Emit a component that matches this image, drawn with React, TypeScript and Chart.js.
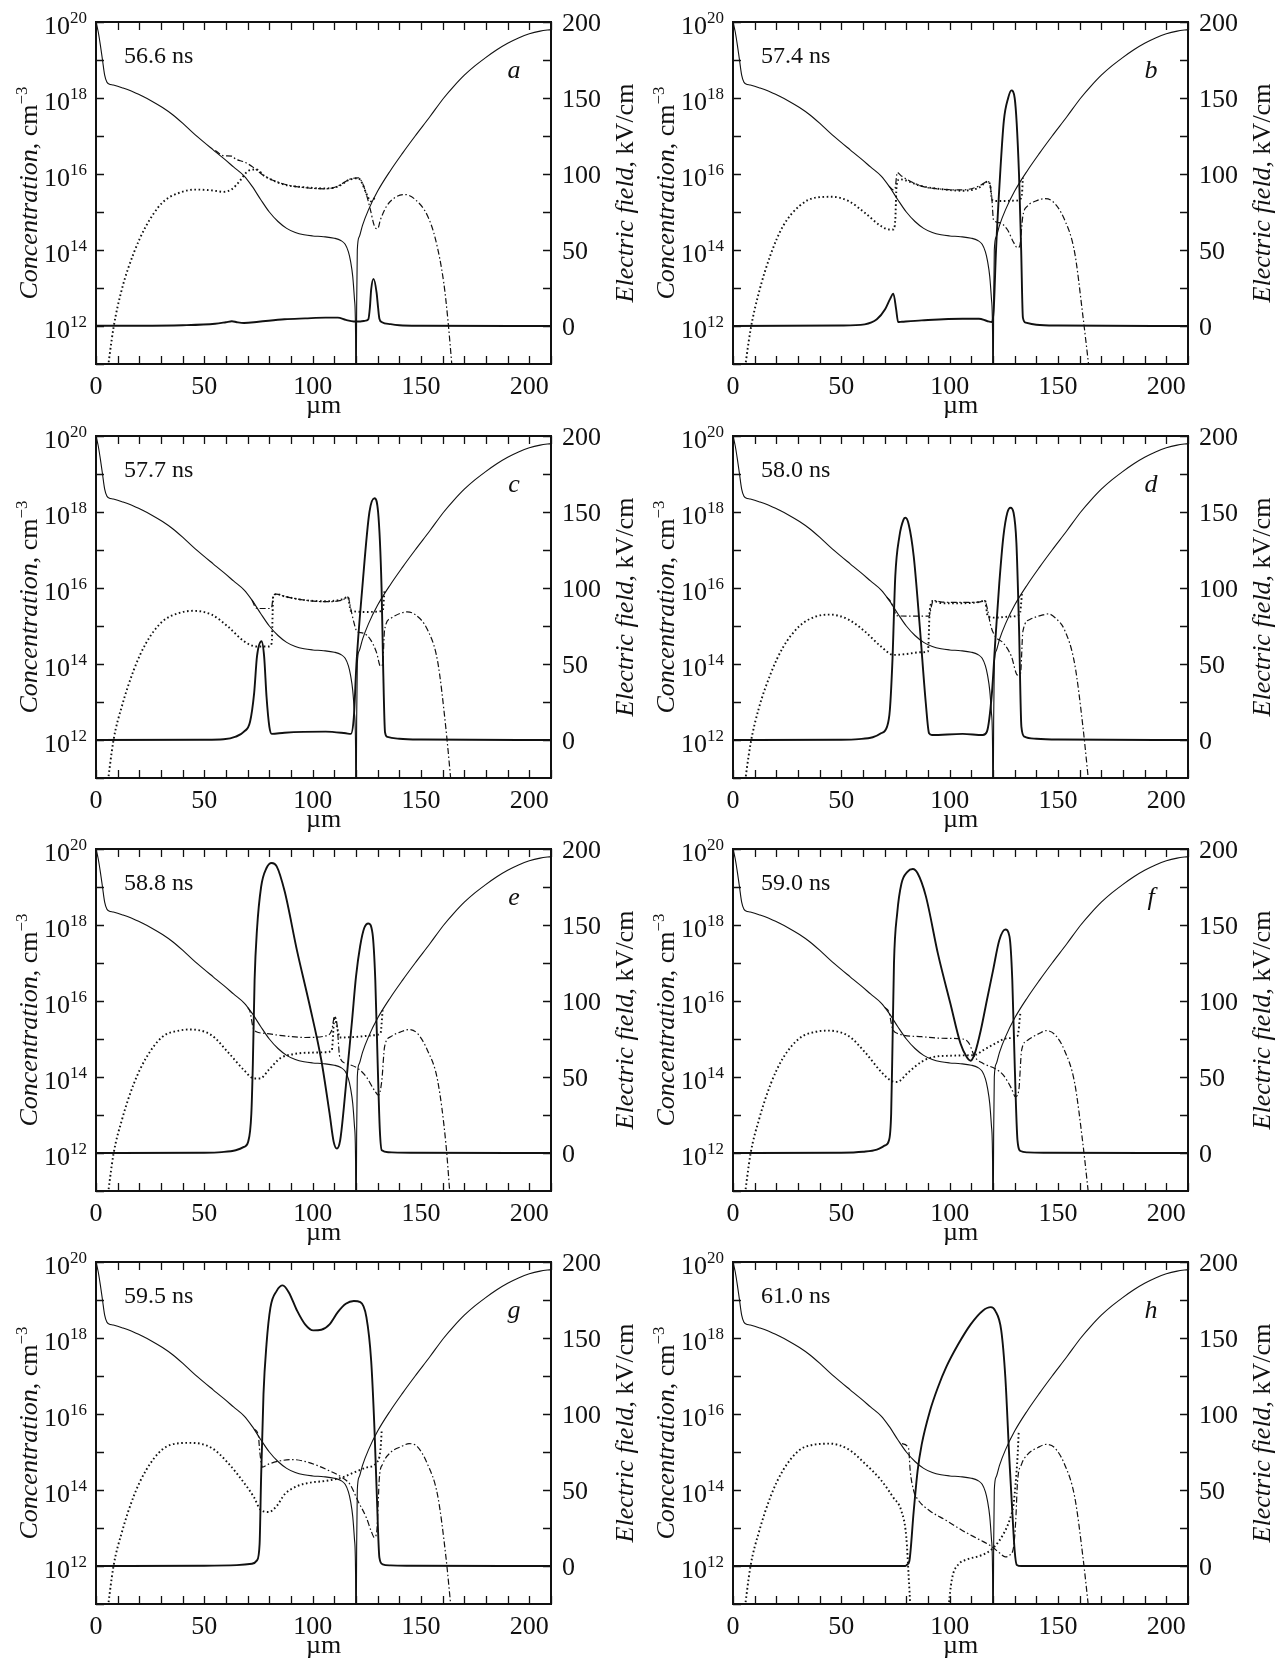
import React, { useEffect, useRef } from 'react';
import { Chart, registerables } from 'chart.js';

Chart.register(...registerables);

// ---------- axis ticks / labels ----------
const X_TICKS = [0, 10, 20, 30, 40, 50, 60, 70, 80, 90, 100, 110, 120, 130, 140, 150, 160, 170, 180, 190, 200, 210];
const X_LABELS = [0, 50, 100, 150, 200];
const C_TICK_EXP = [11, 12, 13, 14, 15, 16, 17, 18, 19, 20];
const C_LABEL_EXP = [12, 14, 16, 18, 20];
const E_TICKS = [0, 25, 50, 75, 100, 125, 150, 175, 200];
const E_LABELS = [0, 50, 100, 150, 200];

// ---------- doping profile |N| (log10 cm^-3), same in every panel ----------
const dopLX = [0, 1, 2, 3, 4, 5, 6, 8, 12, 16, 21.3, 26, 30.7, 35.4, 40.1, 44.8, 49.5, 54.2, 58.9, 63.6, 68.3, 72, 76, 80, 84, 88, 92, 96, 100, 105, 110, 113, 115, 116.5, 117.5, 118.5, 119.3, 119.8, 120];
const dopLV = [20, 19.75, 19.4, 19.0, 18.6, 18.42, 18.37, 18.34, 18.27, 18.19, 18.05, 17.91, 17.75, 17.56, 17.33, 17.08, 16.85, 16.63, 16.41, 16.18, 15.95, 15.68, 15.33, 15.0, 14.75, 14.57, 14.46, 14.4, 14.37, 14.35, 14.31, 14.25, 14.15, 13.95, 13.7, 13.3, 12.7, 11.8, 9];
const dopRX = [120, 120.3, 120.6, 121.5, 123, 125.7, 130, 136, 141.5, 147.3, 154, 160.5, 165, 170, 175, 180, 185, 190, 195, 200, 205, 210];
const dopRV = [9, 12.5, 14.0, 14.35, 14.65, 15.05, 15.55, 16.1, 16.55, 17.0, 17.5, 18.0, 18.3, 18.6, 18.85, 19.07, 19.27, 19.44, 19.58, 19.69, 19.76, 19.8];

// ---------- panel a : 56.6 ns ----------
const aEx = [0, 20, 40, 55, 60, 62.7, 65, 68.3, 75, 87, 96.5, 106, 111.6, 115.3, 119, 122, 124.5, 125.7, 126.4, 127, 128.1, 129.5, 130.2, 130.8, 132, 136, 140, 150, 210];
const aEv = [0.2, 0.2, 0.5, 1.5, 2.5, 3.1, 2.5, 2.0, 2.8, 4.4, 5.0, 5.5, 5.5, 4.0, 3.0, 3.0, 3.5, 4.4, 12, 24, 31, 22, 12, 4.8, 2.5, 1.2, 0.5, 0.2, 0];
const aNx = [55, 58.9, 62.7, 64.5, 68.3, 72, 77.7, 87, 96.5, 106, 111.6, 117, 121, 122.9, 124.8, 126.6, 128.5, 130, 131.3, 134.2, 138, 142.6, 147.3, 153, 156.7, 160.5, 162.4, 164.5];
const aNv = [16.62, 16.48, 16.47, 16.39, 16.32, 16.2, 15.95, 15.73, 15.64, 15.61, 15.68, 15.86, 15.9, 15.77, 15.46, 15.07, 14.63, 14.56, 14.8, 15.16, 15.38, 15.46, 15.33, 14.9, 14.28, 13.14, 12.17, 10.8];
const aPx = [4.6, 8.1, 11.9, 17.5, 23.1, 30.7, 38.2, 45.7, 53.3, 58.9, 62.7, 66.4, 70.2, 74, 77.7, 87, 96.5, 106, 111.6, 117, 121, 122.9, 124.8, 127, 129];
const aPv = [10.5, 11.96, 12.96, 13.93, 14.63, 15.25, 15.5, 15.59, 15.57, 15.53, 15.6, 15.82, 16.08, 16.12, 15.95, 15.72, 15.65, 15.62, 15.67, 15.85, 15.89, 15.75, 15.48, 15.28, 15.4];

// ---------- panel b : 57.4 ns ----------
const bEx = [0, 50, 60.8, 66.4, 70.2, 72.4, 74, 75.3, 76.2, 78, 87.1, 106, 113.5, 117.2, 119.5, 120.3, 121.4, 123.3, 125, 127, 128.5, 130, 132, 133, 133.8, 135.1, 140, 150, 210];
const bEv = [0, 0.3, 1.1, 4.4, 11, 17.5, 21.3, 11, 2.6, 2.8, 3.7, 4.8, 4.8, 3.3, 2.6, 10, 50, 100, 135, 150, 155, 150, 100, 50, 5.5, 2.2, 0.8, 0.3, 0];
const bNx = [72, 74, 74.9, 75.8, 77.7, 87.1, 96.5, 106, 113.5, 117.6, 118.7, 119.5, 120.2, 122.9, 126.6, 129.5, 131.3, 132.3, 133.8, 136, 139.8, 143.6, 147.3, 153, 157.7, 161.5, 164.5];
const bNv = [15.68, 15.58, 15.65, 16.04, 15.95, 15.68, 15.6, 15.58, 15.68, 15.8, 15.7, 15.33, 14.8, 14.72, 14.54, 14.2, 14.06, 14.1, 14.9, 15.16, 15.29, 15.35, 15.29, 14.8, 13.93, 12.26, 10.8];
const bPx = [4.6, 8.1, 11.9, 17.5, 23.1, 30.7, 38.2, 45.7, 53.3, 60.8, 68.3, 72, 74, 74.9, 75.5, 76.8, 87.1, 96.5, 106, 113.5, 117.6, 118.7, 119.5, 121, 124.8, 130.4, 133.2, 133.8];
const bPv = [10.5, 11.9, 12.87, 13.9, 14.63, 15.16, 15.38, 15.4, 15.29, 14.98, 14.63, 14.54, 14.54, 14.8, 15.68, 15.86, 15.68, 15.6, 15.56, 15.64, 15.8, 15.7, 15.33, 15.29, 15.29, 15.3, 15.38, 15.9];

// ---------- panel c : 57.7 ns ----------
const cEx = [0, 50, 58.9, 64.5, 68.3, 71.1, 73, 74.3, 76.4, 77.6, 78.7, 80, 81.1, 87, 106, 115.3, 117.6, 119, 120.2, 122.9, 126.2, 128.5, 130.2, 131.8, 132.5, 133.4, 134.5, 140, 150, 210];
const cEv = [0, 0.2, 0.5, 2.2, 5.5, 12, 31, 55, 65, 55, 28.6, 8.8, 4, 4.8, 5.5, 4.4, 4, 15, 50, 100, 150, 159, 150, 100, 50, 5, 2, 0.8, 0.3, 0];
const cNx = [72, 74, 77, 80, 81.1, 81.8, 83.4, 87, 96.5, 106, 113.5, 116.3, 117.6, 119, 120.5, 122.9, 126.6, 129.5, 131.3, 132.3, 133.2, 136, 143.6, 147.3, 153, 157.7, 161.5, 164];
const cNv = [15.68, 15.47, 15.46, 15.46, 15.5, 15.8, 15.84, 15.78, 15.68, 15.64, 15.68, 15.76, 15.45, 15.1, 14.85, 14.82, 14.65, 14.3, 13.94, 14.0, 14.9, 15.2, 15.37, 15.3, 14.9, 14.06, 12.3, 10.8];
const cPx = [4.6, 8.1, 11.9, 17.5, 23.1, 30.7, 38.2, 44.8, 53.3, 60.8, 68.3, 74, 79.6, 81.1, 81.8, 83.4, 87, 96.5, 106, 113.5, 116.3, 117.6, 124.8, 132.3, 133.2];
const cPv = [10.5, 12.0, 12.88, 13.85, 14.55, 15.12, 15.34, 15.4, 15.3, 14.99, 14.6, 14.46, 14.46, 14.55, 15.78, 15.84, 15.78, 15.68, 15.65, 15.7, 15.76, 15.4, 15.37, 15.4, 15.96];

// ---------- panel d : 58.0 ns ----------
const dEx = [0, 50, 58, 64.5, 68.3, 71.1, 72.4, 73.6, 74.9, 76.8, 78.7, 79.6, 81.1, 83.4, 86.2, 89, 90.5, 91.8, 106, 115.3, 117.2, 119.5, 121, 122.9, 124.8, 126.6, 128.1, 129.5, 130.8, 132, 133.1, 134.5, 140, 150, 210];
const dEv = [0, 0.2, 0.6, 1.8, 4.4, 8.8, 19.8, 52.7, 107.7, 134, 145, 146.2, 141.8, 121, 74.7, 24, 4.4, 3.3, 4, 3.3, 5.5, 30.8, 63.7, 103, 134, 149.5, 152.8, 149.5, 129.7, 74.7, 8.8, 2.2, 0.8, 0.3, 0];
const dNx = [71, 73, 75.8, 80, 85, 90.5, 91.5, 92.4, 96.5, 106, 113.5, 116.3, 117.2, 119, 121, 124.8, 128.5, 131.3, 132.7, 133.8, 137, 143.6, 145.5, 149, 153, 157.7, 161.5, 164.3];
const dNv = [15.76, 15.62, 15.27, 15.26, 15.26, 15.26, 15.5, 15.67, 15.63, 15.62, 15.63, 15.67, 15.5, 15.0, 14.73, 14.55, 14.2, 13.71, 13.75, 14.86, 15.17, 15.3, 15.32, 15.2, 14.9, 14.0, 12.35, 10.8];
const dPx = [4.6, 8.1, 11.9, 17.5, 23.1, 30.7, 38.2, 44.8, 53.3, 60.8, 68.3, 74, 79.6, 87, 90, 90.8, 92.4, 96.5, 106, 113.5, 116.3, 117.6, 121, 128.5, 132.3, 133.4];
const dPv = [10.5, 11.9, 12.83, 13.76, 14.44, 15.0, 15.25, 15.3, 15.17, 14.86, 14.46, 14.24, 14.26, 14.31, 14.33, 15.4, 15.66, 15.6, 15.6, 15.63, 15.67, 15.25, 15.22, 15.25, 15.3, 15.85];

// ---------- panel e : 58.8 ns ----------
const eEx = [0, 50, 58, 64.5, 68.3, 70.2, 71.7, 72.4, 73.2, 74.3, 76.2, 78.7, 81.1, 83.4, 87.1, 92.8, 98.4, 104, 107.8, 109.7, 111.2, 112.7, 114.4, 116.3, 118.2, 120, 121.9, 123.8, 125.7, 127.6, 128.9, 130, 131, 131.9, 135, 145, 210];
const eEv = [0, 0.2, 0.6, 1.8, 4, 7.3, 26, 59, 114, 147, 175, 187.5, 190.8, 188.6, 172, 133, 98.5, 61, 26, 7.3, 2.9, 8.4, 30, 59, 87.5, 116, 136, 148, 151, 144.6, 114, 59, 15, 1.8, 0.5, 0.2, 0];
const eNx = [70, 71.1, 72.4, 74, 77.7, 87, 96.5, 106, 108.8, 110.1, 111.2, 112.5, 115.3, 121, 124.8, 128.5, 130.4, 131.9, 133.2, 136, 140.8, 144.5, 148.3, 153, 157.7, 161.5, 163.5];
const eNv = [15.83, 15.72, 15.32, 15.19, 15.15, 15.08, 15.04, 15.08, 15.23, 15.59, 15.4, 14.53, 14.36, 14.22, 14.0, 13.65, 13.52, 13.9, 14.8, 15.06, 15.19, 15.25, 15.15, 14.7, 13.9, 12.24, 10.8];
const ePx = [4.6, 8.1, 11.9, 17.5, 23.1, 30.7, 38.2, 43.8, 53.3, 60.8, 68.3, 73, 75.8, 79.6, 85.2, 90.9, 98.4, 106, 108.8, 110.1, 111.2, 112.5, 121, 128.5, 131.3, 132.3];
const ePv = [10.5, 11.98, 12.86, 13.83, 14.5, 15.06, 15.22, 15.25, 15.1, 14.66, 14.18, 13.96, 13.96, 14.18, 14.5, 14.6, 14.64, 14.65, 14.7, 15.59, 15.33, 15.04, 15.06, 15.1, 15.15, 15.76];

// ---------- panel f : 59.0 ns ----------
const fEx = [0, 50, 60, 66.4, 70.2, 72, 73, 73.6, 74.3, 75.8, 77.7, 80.5, 83, 85.2, 89, 94.6, 100.3, 105, 107.8, 109.7, 111.6, 114.4, 117.2, 120, 122.9, 125.7, 127.6, 128.9, 130, 131.3, 132.7, 136, 145, 210];
const fEv = [0, 0.2, 0.8, 2.2, 5, 8.4, 26, 70, 125, 158, 177, 185, 186.8, 184, 169, 131, 98.5, 72, 63.3, 60.7, 65.5, 81, 100.7, 120, 140, 147, 142.5, 114, 59, 8.4, 1.3, 0.4, 0.2, 0];
const fNx = [70, 72, 73.6, 75.8, 87, 96.5, 106, 108.8, 111.6, 115.3, 121, 124.8, 128.5, 130.4, 131.9, 133.2, 136, 141.5, 144.5, 148.3, 153, 157.7, 161.5, 164.3];
const fNv = [15.83, 15.7, 15.28, 15.15, 15.06, 15.02, 15.0, 14.9, 14.53, 14.36, 14.22, 14.05, 13.7, 13.48, 13.65, 14.7, 14.97, 15.15, 15.22, 15.13, 14.7, 13.84, 12.24, 10.8];
const fPx = [4.6, 8.1, 11.9, 17.5, 23.1, 30.7, 38.2, 43.8, 53.3, 60.8, 68.3, 73, 75.8, 80.5, 87, 92.8, 100.3, 107.8, 111.6, 115.3, 121, 126.6, 131.3, 132.7];
const fPv = [10.5, 11.98, 12.86, 13.83, 14.5, 15.02, 15.19, 15.22, 15.08, 14.66, 14.14, 13.9, 13.87, 14.1, 14.4, 14.53, 14.56, 14.57, 14.58, 14.7, 14.88, 15.02, 15.08, 15.72];

// ---------- panel g : 59.5 ns ----------
const gEx = [0, 50, 65, 72, 74.3, 75.5, 76.2, 77.3, 78.7, 80.5, 83.4, 86.2, 89, 92.8, 96.5, 100.3, 104, 107.8, 111.6, 115.3, 119, 122, 124.8, 127, 128.5, 129.6, 130.8, 132.3, 136, 145, 210];
const gEv = [0, 0.2, 0.6, 1.5, 3.7, 14.3, 58, 113, 146, 170, 181, 184.6, 180, 168, 159, 155, 155.4, 159, 167, 172.5, 174.3, 173.6, 163.7, 135, 91, 47, 5.5, 1.1, 0.4, 0.2, 0];
const gNx = [73, 74.9, 75.6, 76.8, 79.6, 85.2, 90.9, 98.4, 106, 113.5, 117.2, 121, 124.8, 127, 128.5, 129.6, 130.8, 132.3, 136, 140.8, 144.5, 148.3, 153, 157.7, 161.5, 164];
const gNv = [15.6, 15.45, 15.0, 14.6, 14.68, 14.77, 14.8, 14.72, 14.55, 14.33, 14.15, 13.7, 13.27, 12.92, 12.75, 12.92, 14.33, 14.68, 14.99, 15.14, 15.22, 15.14, 14.68, 13.85, 12.24, 10.8];
const gPx = [4.6, 8.1, 11.9, 17.5, 23.1, 30.7, 38.2, 43.8, 53.3, 60.8, 68.3, 73, 75.8, 79.6, 83.4, 87.1, 92.8, 98.4, 106, 113.5, 119, 124.8, 129.5, 131.3, 131.9];
const gPv = [10.5, 12.0, 12.88, 13.85, 14.52, 15.07, 15.23, 15.24, 15.11, 14.72, 14.19, 13.8, 13.49, 13.42, 13.58, 13.89, 14.1, 14.19, 14.24, 14.33, 14.46, 14.59, 14.72, 15.07, 15.6];

// ---------- panel h : 61.0 ns ----------
const hEx = [0, 79.6, 80.5, 81.4, 83.4, 85.2, 87.1, 90.9, 94.6, 98.4, 104, 109.7, 115.3, 119, 121, 123.8, 125.7, 127.6, 128.9, 130, 131, 133, 210];
const hEv = [0, 0, 1.1, 3.3, 36, 62.6, 80, 102, 117.6, 130.8, 146, 159, 168, 170.3, 168, 155, 124, 69, 36, 10, 0.7, 0, 0];
const hNx = [78, 81, 81.8, 83.4, 85.2, 90.9, 98.4, 106, 113.5, 119, 122.9, 125.7, 127.6, 129.5, 130.5, 131.3, 133.2, 136, 140.8, 144.5, 148.3, 153, 157.7, 161.5, 164.3];
const hNv = [15.22, 15.1, 14.5, 13.98, 13.76, 13.45, 13.2, 12.93, 12.7, 12.53, 12.35, 12.24, 12.28, 12.5, 13.2, 14.2, 14.68, 14.94, 15.12, 15.2, 15.12, 14.68, 13.82, 12.24, 10.8];
const hPx1 = [4.6, 8.1, 11.9, 17.5, 23.1, 30.7, 38.2, 44.8, 53.3, 60.8, 68.3, 74, 77.7, 80, 81.1, 81.8, 82.3];
const hPv1 = [10.5, 12.0, 12.88, 13.85, 14.52, 15.05, 15.2, 15.22, 15.07, 14.7, 14.26, 13.8, 13.45, 12.75, 11.7, 11.0, 10.5];
const hPx2 = [99, 100, 101.2, 104, 107.8, 113.5, 117.2, 121, 124.8, 127.6, 129.5, 130.4, 131.3, 131.9];
const hPv2 = [10.5, 11.2, 11.7, 12.04, 12.17, 12.26, 12.35, 12.53, 12.84, 13.2, 13.63, 14.15, 14.85, 15.55];

const TIMES = ['56.6 ns', '57.4 ns', '57.7 ns', '58.0 ns', '58.8 ns', '59.0 ns', '59.5 ns', '61.0 ns'];
const LETTERS = ['a', 'b', 'c', 'd', 'e', 'f', 'g', 'h'];

type PanelData = {
  time: string; letter: string;
  ex: number[]; ev: number[];
  nx: number[]; nv: number[];
  px: number[][]; pv: number[][];
};

const PANELS: PanelData[] = [
  { time: TIMES[0], letter: LETTERS[0], ex: aEx, ev: aEv, nx: aNx, nv: aNv, px: [aPx], pv: [aPv] },
  { time: TIMES[1], letter: LETTERS[1], ex: bEx, ev: bEv, nx: bNx, nv: bNv, px: [bPx], pv: [bPv] },
  { time: TIMES[2], letter: LETTERS[2], ex: cEx, ev: cEv, nx: cNx, nv: cNv, px: [cPx], pv: [cPv] },
  { time: TIMES[3], letter: LETTERS[3], ex: dEx, ev: dEv, nx: dNx, nv: dNv, px: [dPx], pv: [dPv] },
  { time: TIMES[4], letter: LETTERS[4], ex: eEx, ev: eEv, nx: eNx, nv: eNv, px: [ePx], pv: [ePv] },
  { time: TIMES[5], letter: LETTERS[5], ex: fEx, ev: fEv, nx: fNx, nv: fNv, px: [fPx], pv: [fPv] },
  { time: TIMES[6], letter: LETTERS[6], ex: gEx, ev: gEv, nx: gNx, nv: gNv, px: [gPx], pv: [gPv] },
  { time: TIMES[7], letter: LETTERS[7], ex: hEx, ev: hEv, nx: hNx, nv: hNv, px: [hPx1, hPx2], pv: [hPv1, hPv2] },
];

// ---------- layout & style ----------
const INK = '#111';
const SERIF = "'Liberation Serif', 'Times New Roman', Times, serif";
const F_TICK = `26px ${SERIF}`;
const F_SUP = `17px ${SERIF}`;
const F_ITAL = `italic 26px ${SERIF}`;
const F_TIME = `24px ${SERIF}`;
const PLOT_LEFT = [96, 733];
const PLOT_TOP = [22, 436, 849, 1262];
const PLOT_W = 455;
const PLOT_H = 342;
const PAD_L = 96;
const PAD_T = 22;
const CW = 639;
const CH = 420;
const TICK = 8;

type Run = { t: string; font: string; dy?: number };
function runsWidth(ctx: CanvasRenderingContext2D, runs: Run[]) {
  let w = 0;
  for (const r of runs) { ctx.font = r.font; w += ctx.measureText(r.t).width; }
  return w;
}
function drawRuns(ctx: CanvasRenderingContext2D, runs: Run[], x: number, y: number) {
  let cx = x;
  for (const r of runs) {
    ctx.font = r.font;
    ctx.fillText(r.t, cx, y + (r.dy || 0));
    cx += ctx.measureText(r.t).width;
  }
}

function makePlugin(p: PanelData) {
  return {
    id: 'physAxes',
    afterDraw(chart: any) {
      const ctx: CanvasRenderingContext2D = chart.ctx;
      const a = chart.chartArea;
      const sx = chart.scales.x, sc = chart.scales.yC, se = chart.scales.yE;
      ctx.save();
      ctx.strokeStyle = INK;
      ctx.fillStyle = INK;
      ctx.lineWidth = 1.3;
      ctx.beginPath();
      for (const v of X_TICKS) {
        const px = Math.round(sx.getPixelForValue(v)) + 0.5;
        ctx.moveTo(px, a.bottom); ctx.lineTo(px, a.bottom - TICK);
        ctx.moveTo(px, a.top); ctx.lineTo(px, a.top + TICK);
      }
      for (const d of C_TICK_EXP) {
        const py = Math.round(sc.getPixelForValue(Math.pow(10, d))) + 0.5;
        ctx.moveTo(a.left, py); ctx.lineTo(a.left + TICK, py);
      }
      for (const v of E_TICKS) {
        const py = Math.round(se.getPixelForValue(v)) + 0.5;
        ctx.moveTo(a.right, py); ctx.lineTo(a.right - TICK, py);
      }
      ctx.stroke();
      ctx.lineWidth = 2;
      ctx.strokeRect(a.left, a.top, a.right - a.left, a.bottom - a.top);

      ctx.textBaseline = 'alphabetic';
      // x labels
      ctx.font = F_TICK;
      ctx.textAlign = 'center';
      for (const v of X_LABELS) ctx.fillText(String(v), sx.getPixelForValue(v), a.bottom + 30);
      ctx.fillText('\u00b5m', (a.left + a.right) / 2, a.bottom + 49);
      // right labels
      ctx.textAlign = 'left';
      for (const v of E_LABELS) ctx.fillText(String(v), a.right + 11, se.getPixelForValue(v) + 9);
      // left labels 10^n
      for (const d of C_LABEL_EXP) {
        const py = sc.getPixelForValue(Math.pow(10, d));
        const runs: Run[] = [{ t: '10', font: F_TICK }, { t: String(d), font: F_SUP, dy: -10.5 }];
        const w = runsWidth(ctx, runs);
        drawRuns(ctx, runs, a.left - 9 - w, py + 11.5);
      }
      const midY = (a.top + a.bottom) / 2;
      // left title
      const lt: Run[] = [
        { t: 'Concentration', font: F_ITAL },
        { t: ', cm', font: F_TICK },
        { t: '\u22123', font: F_SUP, dy: -10 },
      ];
      ctx.save();
      ctx.translate(a.left - 59, midY);
      ctx.rotate(-Math.PI / 2);
      drawRuns(ctx, lt, -runsWidth(ctx, lt) / 2, 0);
      ctx.restore();
      // right title
      const rt: Run[] = [
        { t: 'Electric field', font: F_ITAL },
        { t: ', kV/cm', font: F_TICK },
      ];
      ctx.save();
      ctx.translate(a.right + 82, midY);
      ctx.rotate(-Math.PI / 2);
      drawRuns(ctx, rt, -runsWidth(ctx, rt) / 2, 0);
      ctx.restore();
      // time and panel letter
      ctx.font = F_TIME;
      ctx.textAlign = 'left';
      ctx.fillText(p.time, a.left + 28, a.top + 41);
      ctx.font = F_ITAL;
      ctx.textAlign = 'center';
      ctx.fillText(p.letter, a.right - 37, a.top + 56);
      ctx.restore();
    },
  };
}

const logPts = (xs: number[], vs: number[]) => xs.map((x, i) => ({ x, y: Math.pow(10, vs[i]) }));
const linPts = (xs: number[], vs: number[]) => xs.map((x, i) => ({ x, y: vs[i] }));

function buildConfig(p: PanelData): any {
  const base = { pointRadius: 0, fill: false, borderColor: INK, cubicInterpolationMode: 'monotone' as const, xAxisID: 'x' };
  const datasets: any[] = [
    { ...base, label: 'E', data: linPts(p.ex, p.ev), yAxisID: 'yE', borderWidth: 1.9 },
    { ...base, label: 'N left', data: logPts(dopLX, dopLV), yAxisID: 'yC', borderWidth: 1.1 },
    { ...base, label: 'N right', data: logPts(dopRX, dopRV), yAxisID: 'yC', borderWidth: 1.1 },
    { ...base, label: 'n', data: logPts(p.nx, p.nv), yAxisID: 'yC', borderWidth: 1.2, borderDash: [6, 2.5, 1.5, 2.5] },
  ];
  p.px.forEach((xs, i) => {
    datasets.push({ ...base, label: 'p' + i, data: logPts(xs, p.pv[i]), yAxisID: 'yC', borderWidth: 1.9, borderDash: [1.6, 2.6] });
  });
  return {
    type: 'line',
    data: { datasets },
    options: {
      animation: false,
      responsive: false,
      devicePixelRatio: 1,
      events: [],
      layout: { padding: { left: PAD_L, top: PAD_T, right: CW - PAD_L - PLOT_W, bottom: CH - PAD_T - PLOT_H } },
      plugins: { legend: { display: false }, tooltip: { enabled: false }, title: { display: false } },
      scales: {
        x: { type: 'linear', min: 0, max: 210, display: false },
        yC: { type: 'logarithmic', min: 1e11, max: 1e20, display: false, position: 'left' },
        yE: { type: 'linear', min: -25, max: 200, display: false, position: 'right' },
      },
    },
    plugins: [makePlugin(p)],
  };
}

function Panel({ p, col, row }: { p: PanelData; col: number; row: number }) {
  const ref = useRef<HTMLCanvasElement>(null);
  useEffect(() => {
    if (!ref.current) return;
    const chart = new Chart(ref.current, buildConfig(p));
    return () => chart.destroy();
  }, [p]);
  return (
    <canvas
      ref={ref}
      width={CW}
      height={CH}
      style={{ position: 'absolute', left: PLOT_LEFT[col] - PAD_L, top: PLOT_TOP[row] - PAD_T, width: CW, height: CH }}
    />
  );
}

export default function App() {
  return (
    <div style={{ position: 'absolute', left: 0, top: 0, width: 1276, height: 1663, background: '#fff', overflow: 'hidden' }}>
      {PANELS.map((p, i) => (
        <Panel key={p.letter} p={p} col={i % 2} row={Math.floor(i / 2)} />
      ))}
    </div>
  );
}
